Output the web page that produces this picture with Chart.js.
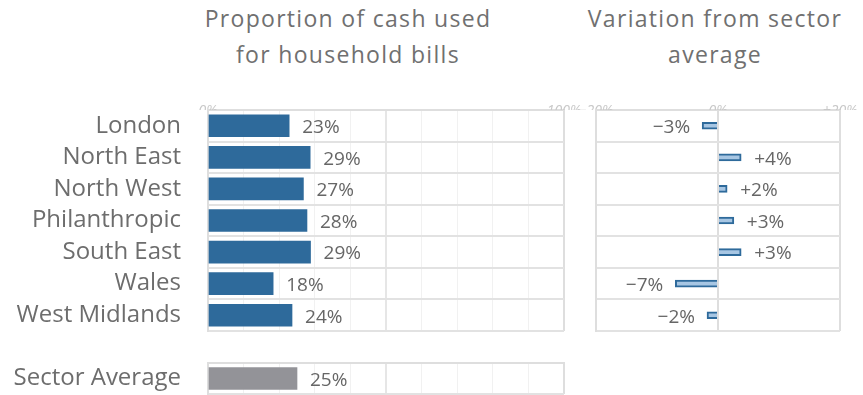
<!DOCTYPE html>
<html>
<head>
<meta charset="utf-8">
<script src="https://cdn.jsdelivr.net/npm/chart.js@4"></script>
<style>
  body { margin: 0; background: #fff; font-family: "Open Sans", sans-serif; }
  #wrap { position: relative; width: 863px; height: 395px; }
  .title { position: absolute; top: 0; width: 360px; text-align: center; color: #707070; font-size: 23px; line-height: 36px; letter-spacing: 1.3px; }
  canvas { position: absolute; }
</style>
</head>
<body>
<div id="wrap">
  <div class="title" style="left:168px">Proportion of cash used<br>for household bills</div>
  <div class="title" style="left:535px">Variation from sector<br>average</div>
  <canvas id="share" style="left:0;top:95px" width="585" height="240"></canvas>
  <canvas id="sector" style="left:0;top:350px" width="585" height="45"></canvas>
  <canvas id="variation" style="left:575px;top:95px" width="288" height="240"></canvas>
</div>
<script>
const categories = ["London", "North East", "North West", "Philanthropic", "South East", "Wales", "West Midlands"];
const cashShare = [22.8, 28.7, 26.8, 27.8, 28.8, 18.3, 23.6];
const cashLabels = ["23%", "29%", "27%", "28%", "29%", "18%", "24%"];

const sectorCategory = ["Sector Average"];
const sectorShare = [25];
const sectorLabels = ["25%"];

const variation = [-2.6, 3.8, 1.5, 2.6, 3.8, -7.0, -1.8];
const variationLabels = ["\u22123%", "+4%", "+2%", "+3%", "+3%", "\u22127%", "\u22122%"];

const shareTickValues = [0, 100];
const shareTickLabels = ["0%", "100%"];
const variationTickValues = [-20, 0, 20];
const variationTickLabels = ["\u221220%", "0%", "+20%"];

const FONT = "'Open Sans', sans-serif";

// draws the value text next to each bar
const valueLabels = {
  id: "valueLabels",
  afterDatasetsDraw(chart, args, opts) {
    const ctx = chart.ctx;
    const meta = chart.getDatasetMeta(0);
    ctx.save();
    ctx.font = "19px " + FONT;
    ctx.fillStyle = "#666";
    ctx.textBaseline = "middle";
    meta.data.forEach((bar, i) => {
      const neg = chart.data.datasets[0].data[i] < 0;
      ctx.textAlign = neg ? "right" : "left";
      ctx.fillText(opts.labels[i], bar.x + (neg ? -12 : 13), bar.y + 2);
    });
    ctx.restore();
  },
};

function tickText(values, labels) {
  return (v) => {
    const i = values.indexOf(v);
    return i >= 0 ? labels[i] : "";
  };
}

// fixed axis sizes, no extra padding from the label heights
function fixWidth(w) {
  return (s) => { s.width = w; s.paddingTop = 0; s.paddingBottom = 0; };
}
function fixHeight(h) {
  return (s) => { s.height = h; };
}

function shareOptions(labels, showTicks, topHeight, bottomPad) {
  return {
    indexAxis: "y",
    responsive: false,
    animation: false,
    layout: { padding: { right: 21, bottom: bottomPad } },
    plugins: {
      legend: { display: false },
      tooltip: { enabled: false },
      valueLabels: { labels: labels },
    },
    scales: {
      x: {
        position: "top",
        min: 0,
        max: 100,
        afterFit: fixHeight(topHeight),
        ticks: {
          display: showTicks,
          stepSize: 10,
          autoSkip: false,
          maxRotation: 0,
          padding: -9,
          color: "#c8c8c8",
          font: { family: FONT, size: 14, style: "italic" },
          callback: tickText(shareTickValues, shareTickLabels),
        },
        grid: {
          drawTicks: false,
          color: (c) => (c.tick.value === 0 || c.tick.value === 100 ? "#dedede" : c.tick.value === 50 ? "#e6e6e6" : "#f1f1f1"),
          lineWidth: (c) => (c.tick.value === 0 || c.tick.value === 100 || c.tick.value === 50 ? 2 : 1),
        },
        border: { color: "#dedede", width: 2 },
      },
      y: {
        afterFit: fixWidth(208),
        ticks: {
          autoSkip: false,
          padding: 27,
          color: "#6d6d6d",
          font: { family: FONT, size: 24 },
        },
        grid: { drawTicks: false, color: "#e2e2e2", lineWidth: 2 },
        border: { color: "#dedede", width: 2 },
      },
    },
  };
}

new Chart(document.getElementById("share"), {
  type: "bar",
  data: {
    labels: categories,
    datasets: [{ data: cashShare, backgroundColor: "#2e6a9b", barThickness: 22 }],
  },
  options: shareOptions(cashLabels, true, 15, 4),
  plugins: [valueLabels],
});

new Chart(document.getElementById("sector"), {
  type: "bar",
  data: {
    labels: sectorCategory,
    datasets: [{ data: sectorShare, backgroundColor: "#939398", barThickness: 22 }],
  },
  options: shareOptions(sectorLabels, false, 13, 1),
  plugins: [valueLabels],
});

new Chart(document.getElementById("variation"), {
  type: "bar",
  data: {
    labels: categories,
    datasets: [{
      data: variation,
      backgroundColor: "#a7c6e3",
      borderColor: "#2e6a9b",
      borderWidth: 2,
      barThickness: 7,
    }],
  },
  options: {
    indexAxis: "y",
    responsive: false,
    animation: false,
    layout: { padding: { right: 23, bottom: 4 } },
    plugins: {
      legend: { display: false },
      tooltip: { enabled: false },
      valueLabels: { labels: variationLabels },
    },
    scales: {
      x: {
        position: "top",
        min: -20,
        max: 20,
        afterFit: fixHeight(15),
        ticks: {
          stepSize: 20,
          autoSkip: false,
          maxRotation: 0,
          padding: -9,
          color: "#c8c8c8",
          font: { family: FONT, size: 14, style: "italic" },
          callback: tickText(variationTickValues, variationTickLabels),
        },
        grid: { drawTicks: false, color: "#dedede", lineWidth: 2 },
        border: { color: "#dedede", width: 2 },
      },
      y: {
        afterFit: fixWidth(21),
        ticks: { display: false },
        grid: { drawTicks: false, color: "#e2e2e2", lineWidth: 2 },
        border: { color: "#dedede", width: 2 },
      },
    },
  },
  plugins: [valueLabels],
});
</script>
</body>
</html>
